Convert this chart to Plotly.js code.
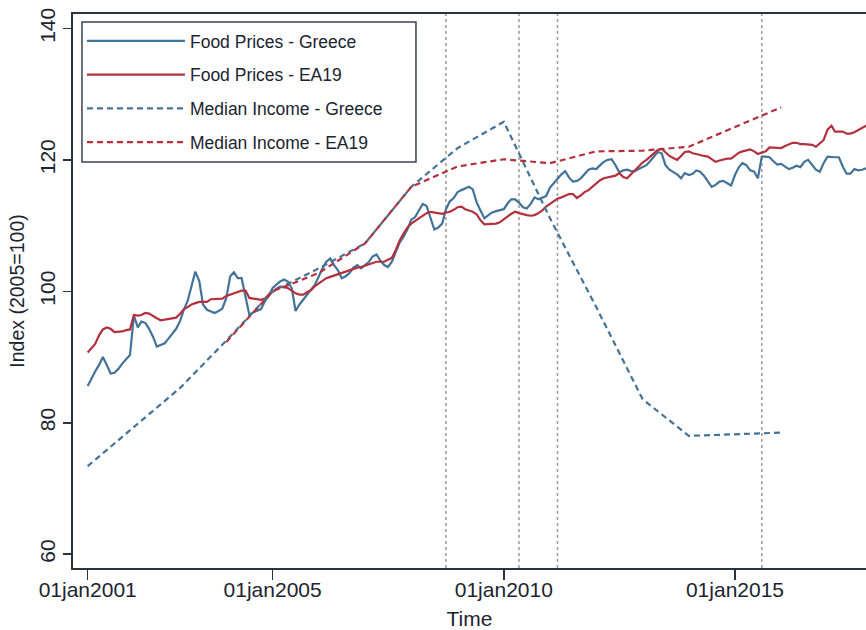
<!DOCTYPE html>
<html>
<head>
<meta charset="utf-8">
<script src="https://cdn.plot.ly/plotly-3.0.1.min.js"></script>
<style>html,body{margin:0;padding:0;background:#fff;}#chart{width:866px;height:630px;}</style>
</head>
<body>
<div id="chart"></div>
<script>
// ---- Data ----
// Monthly food price indices, starting January 2001
const foodStart = "2001-01";
const foodGreece = [
85.6,86.8,87.8,88.8,90.0,88.8,87.5,87.6,88.2,89.0,89.6,90.3,
96.3,94.5,95.4,95.2,94.3,93.1,91.6,91.8,92.1,92.8,93.5,94.3,
95.5,97.3,98.5,101.0,103.0,101.6,98.0,97.2,96.9,96.7,97.0,97.4,
99.0,102.3,102.9,102.0,102.0,99.0,96.4,96.8,97.0,97.3,98.5,99.3,
100.5,101.1,101.5,101.8,101.5,100.5,97.0,98.0,98.8,99.5,100.2,101.0,
102.3,103.6,104.5,105.0,104.0,103.2,102.0,102.3,102.8,103.6,104.0,103.5,
104.0,104.5,105.3,105.6,104.7,104.0,103.7,104.5,106.0,107.4,108.3,109.4,
110.9,111.3,112.3,113.3,113.0,111.0,109.4,109.7,110.3,112.5,113.7,114.2,
115.1,115.4,115.6,115.9,115.5,113.5,112.3,111.1,111.6,112.0,112.2,112.4,
112.5,113.4,114.0,114.0,113.5,112.8,112.6,113.3,114.3,114.0,114.2,114.5,
115.8,116.5,117.0,117.8,118.3,117.3,116.7,116.8,117.2,117.8,118.5,118.7,
118.6,119.2,119.7,120.0,120.1,119.2,118.1,118.4,118.5,118.3,118.3,118.6,
118.9,119.2,119.8,120.5,121.2,121.0,119.2,118.5,118.2,117.8,117.2,118.0,
117.7,117.9,118.4,118.2,117.6,116.8,115.9,116.2,116.7,116.8,116.4,116.1,
117.7,118.9,119.5,119.2,118.4,118.2,117.2,120.5,120.5,120.4,119.8,119.3,
119.4,119.0,118.6,118.8,119.1,118.9,119.7,120.0,119.2,118.5,118.2,119.5,
120.5,120.4,120.4,120.4,119.0,117.9,117.9,118.6,118.4,118.5,118.7,118.7
];
const foodEA19 = [
90.7,91.3,92.0,93.3,94.2,94.5,94.3,93.8,93.8,93.9,94.1,94.2,
96.4,96.3,96.4,96.7,96.6,96.2,95.9,95.6,95.7,95.9,95.9,96.0,
96.6,97.3,97.6,98.0,98.2,98.4,98.4,98.4,98.8,98.8,98.8,98.9,
99.3,99.5,99.6,99.8,100.1,100.1,99.0,98.9,98.8,98.7,98.9,99.5,
99.9,100.4,100.7,100.6,100.5,100.1,99.7,99.5,99.5,99.9,100.2,100.8,
101.2,101.7,102.0,102.2,102.4,102.7,102.8,103.0,103.2,103.4,103.6,103.7,
103.9,104.0,104.3,104.5,104.5,104.5,104.8,105.1,106.3,107.7,108.8,109.7,
110.3,110.7,111.1,111.5,111.9,112.1,112.0,111.9,111.8,112.0,112.1,112.4,
112.8,112.9,112.5,112.3,112.1,111.7,110.8,110.2,110.2,110.2,110.3,110.5,
110.9,111.4,111.8,112.1,111.9,111.7,111.6,111.5,111.6,111.9,112.3,112.9,
113.3,113.7,114.1,114.3,114.6,114.8,114.8,114.2,114.6,115.1,115.4,115.9,
116.5,116.9,117.2,117.3,117.4,117.6,118.0,117.4,117.2,117.8,118.3,119.0,
119.6,120.0,120.5,121.0,121.5,121.7,121.1,120.6,120.3,120.0,120.6,121.2,
121.3,121.0,120.9,120.7,120.6,120.5,120.1,119.7,119.9,120.1,120.2,120.2,
120.6,121.1,121.3,121.5,121.6,121.3,120.9,121.1,121.3,121.9,121.9,121.8,
121.8,122.1,122.4,122.6,122.6,122.4,122.4,122.4,122.3,122.0,122.5,123.0,
124.6,125.2,124.3,124.3,124.3,124.0,124.0,124.2,124.5,124.9,125.2,125.3
];
// Annual median income indices
const incomeYearsGreece = [2001,2002,2003,2004,2005,2006,2007,2008,2009,2010,2011,2012,2013,2014,2015,2016];
const incomeGreece = [73.4,79.3,85.3,92.5,100,103.5,107.3,115.9,121.8,125.8,111.1,97.6,83.6,78.0,78.3,78.5];
const incomeYearsEA19 = [2004,2005,2006,2007,2008,2009,2010,2011,2012,2013,2014,2015,2016];
const incomeEA19 = [92.3,100,102.8,107.3,115.9,119.0,120.1,119.5,121.3,121.4,122.0,125.0,128.0];
// Event markers (vertical dotted lines)
const eventDates = ["2008-10-01","2010-05-01","2011-03-01","2015-08-01"];
// Axis ticks
const xTickVals = ["2001-01-01","2005-01-01","2010-01-01","2015-01-01"];
const xTickText = ["01jan2001","01jan2005","01jan2010","01jan2015"];
const yTickVals = [60,80,100,120,140];
const seriesNames = ["Food Prices - Greece","Food Prices - EA19","Median Income - Greece","Median Income - EA19"];

// ---- Build ----
function monthly(start, n){
  const [y0,m0] = start.split("-").map(Number);
  const out=[];
  for(let i=0;i<n;i++){
    const t=(m0-1)+i; const y=y0+Math.floor(t/12); const m=t%12+1;
    out.push(y+"-"+String(m).padStart(2,"0")+"-01");
  }
  return out;
}
const yearDates = ys => ys.map(y => y+"-01-01");

const BLUE = "#44739a";
const RED = "#b3313f";
const FONT = "Liberation Sans, Arial, Helvetica, sans-serif";
const TXT = "#1c2430";

const traces = [
  {x: monthly(foodStart, foodGreece.length), y: foodGreece, name: seriesNames[0], legendgroup:"a",
   mode:"lines", line:{color:BLUE, width:2.2}},
  {x: monthly(foodStart, foodEA19.length), y: foodEA19, name: seriesNames[1], legendgroup:"b",
   mode:"lines", line:{color:RED, width:2.2}},
  {x: yearDates(incomeYearsGreece), y: incomeGreece, name: seriesNames[2], legendgroup:"c",
   mode:"lines", line:{color:BLUE, width:2.2, dash:"6px,4px"}},
  {x: yearDates(incomeYearsEA19), y: incomeEA19, name: seriesNames[3], legendgroup:"d",
   mode:"lines", line:{color:RED, width:2.2, dash:"6px,4px"}}
];

const shapes = eventDates.map(d => ({
  type:"line", xref:"x", yref:"paper", x0:d, x1:d, y0:0, y1:1,
  line:{color:"#9a9a9a", width:1.5, dash:"dot"}, layer:"below"
}));
// legend frame (wider than Plotly's auto-sized legend box)
shapes.push({type:"rect", xref:"paper", yref:"paper", x0:0.0113, x1:0.4325, y0:0.7329, y1:0.9856,
  fillcolor:"#fff", line:{color:"#3a4350", width:1.5}, layer:"above"});

const layout = {
  width:866, height:630,
  margin:{l:73, r:0, t:14, b:62},
  paper_bgcolor:"#fff", plot_bgcolor:"#fff",
  font:{family:FONT, color:TXT, size:21},
  showlegend:true,
  legend:{x:0.0113, y:0.9838, xanchor:"left", yanchor:"top",
    bgcolor:"rgba(0,0,0,0)", borderwidth:0,
    font:{family:FONT, size:17.5, color:TXT},
    itemwidth:98, traceorder:"grouped", tracegroupgap:8},
  xaxis:{type:"date", range:["2000-09-07","2017-11-01"],
    tickvals:xTickVals, ticktext:xTickText, ticks:"outside", ticklen:10, tickwidth:1.5, tickcolor:"#2a3340",
    ticklabelstandoff:-8,
    showgrid:false, zeroline:false, showline:true, linecolor:"#2a3340", linewidth:2, mirror:true,
    tickfont:{size:21, color:TXT}, title:{text:"Time", font:{size:21, color:TXT}, standoff:11}},
  yaxis:{range:[57.9,142.2], tickvals:yTickVals, ticks:"outside", ticklen:8, tickwidth:1.5, tickcolor:"#2a3340",
    showgrid:false, zeroline:false, showline:true, linecolor:"#2a3340", linewidth:2,
    tickangle:-90, tickfont:{size:21, color:TXT},
    title:{text:"Index (2005=100)", font:{size:19.5, color:TXT}, standoff:6}},
  shapes:shapes
};

Plotly.newPlot("chart", traces, layout, {displayModeBar:false, staticPlot:true});
</script>
</body>
</html>
